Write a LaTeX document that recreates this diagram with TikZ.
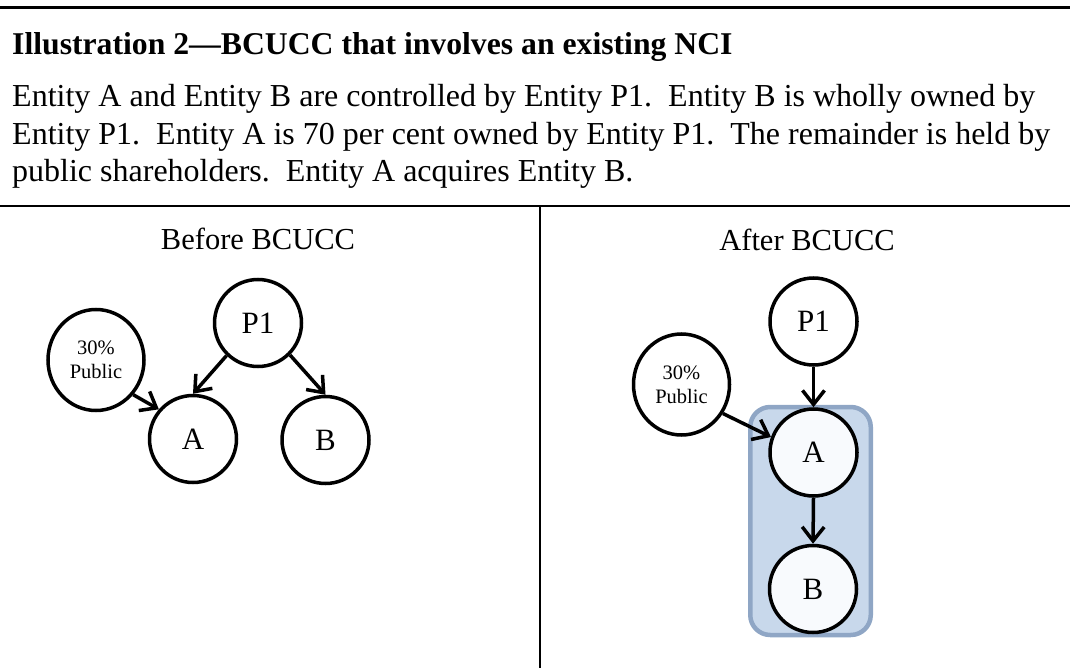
\documentclass[tikz,border=0pt]{standalone}
\usepackage{fontspec}
\setmainfont{Liberation Serif}
\usetikzlibrary{arrows.meta,shapes.geometric}

\definecolor{boxfill}{RGB}{200,216,235}
\definecolor{boxline}{RGB}{143,166,197}
\definecolor{nodefill}{RGB}{248,250,253}

\tikzset{
  ent/.style={circle, draw, line width=3.5pt, minimum size=87pt, inner sep=0pt,
    fill=white, font=\fontsize{31}{31}\selectfont},
  pub/.style={ellipse, draw, line width=3.5pt, minimum width=96pt, minimum height=101pt,
    inner sep=0pt, fill=white, align=center, font=\fontsize{20.5}{24}\selectfont},
  own/.style={line width=3.5pt, -{Straight Barb[length=14pt,width=22pt,line width=3.5pt]}},
  heading/.style={anchor=base west, inner sep=0pt, font=\fontsize{31.7}{31.7}\selectfont\bfseries},
  body/.style={anchor=base west, inner sep=0pt, font=\fontsize{32}{32}\selectfont},
  caption/.style={anchor=base, inner sep=0pt, font=\fontsize{30.5}{30.5}\selectfont},
  rule/.style={line width=2pt},
}

\begin{document}
\begin{tikzpicture}[x=1pt,y=-1pt]
\useasboundingbox (0,0) rectangle (1070,668);

% frame rules
\draw[line width=3pt] (0,8) -- (1070,8);
\draw[rule] (0,206.5) -- (1070,206.5);
\draw[rule] (540,206.5) -- (540,668);

% heading and description
\node[heading] (title) at (12,55) {Illustration 2---BCUCC that involves an existing NCI};
\node[body] (l1) at (12,107) {Entity A and Entity B are controlled by Entity P1.\ \ Entity B is wholly owned by};
\node[body] (l2) at (12,144.5) {Entity P1.\ \ Entity A is 70 per cent owned by Entity P1.\ \ The remainder is held by};
\node[body] (l3) at (12,182) {public shareholders.\ \ Entity A acquires Entity B.};

% before
\node[caption] (capL) at (258,250) {Before BCUCC};
\node[ent] (P1L) at (258,323) {P1};
\node[pub] (PubL) at (96,360) {30\%\\Public};
\node[ent] (AL) at (193,439) {A};
\node[ent] (BL) at (325.5,440) {B};
\draw[own] (P1L.-134) -- (AL.north);
\draw[own] (P1L.-45) -- (BL.north);
\draw[own] (PubL.-43) -- (AL.139);

% after
\node[caption] (capR) at (807,251) {After BCUCC};
\draw[line width=4.5pt, draw=boxline, fill=boxfill, rounded corners=20pt]
  (750.25,407) rectangle (870.75,635);
\node[ent] (P1R) at (813.5,321.5) {P1};
\node[pub] (PubR) at (681.5,384.5) {30\%\\Public};
\node[ent, fill=nodefill] (AR) at (813.5,452.5) {A};
\node[ent, fill=nodefill] (BR) at (813,589) {B};
\draw[own] (P1R.south) -- (AR.north);
\draw[own] (AR.south) -- (BR.north);
\draw[own] (PubR.-35) -- (AR.160);
\end{tikzpicture}
\end{document}
